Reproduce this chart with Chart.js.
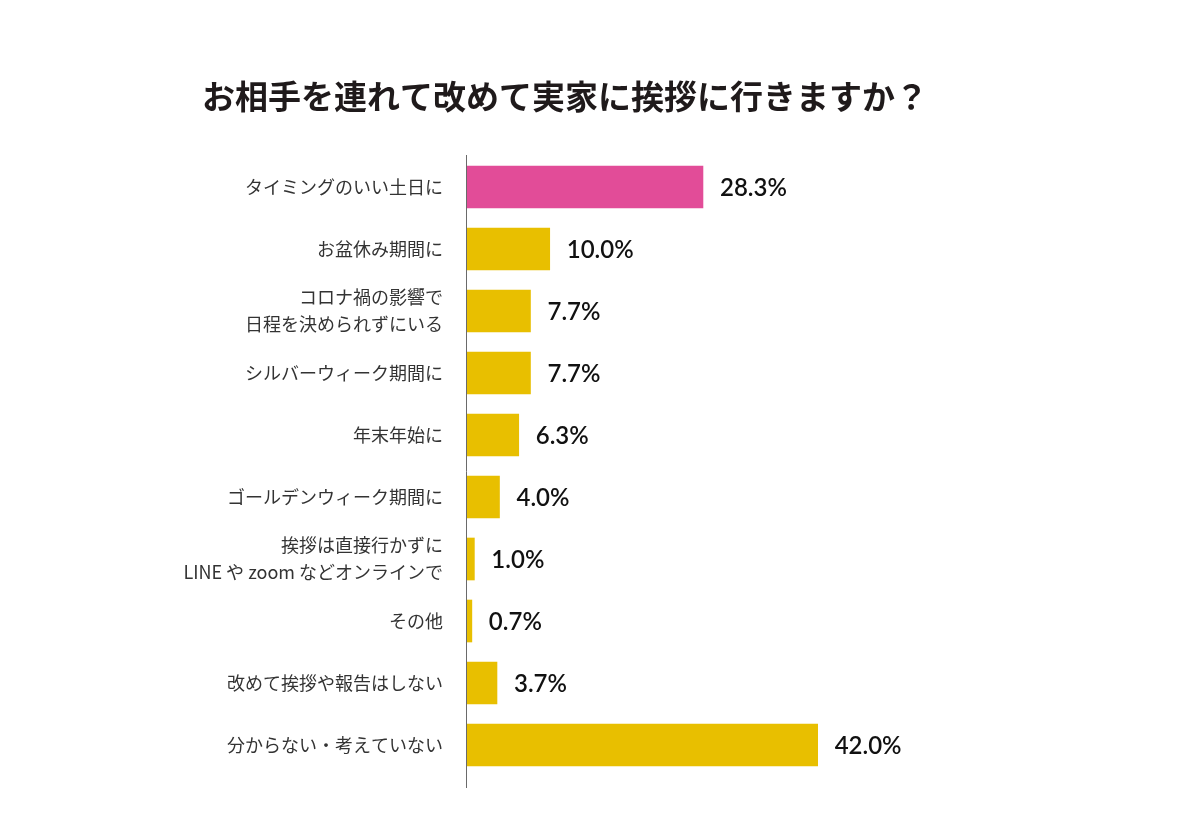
<!DOCTYPE html>
<html>
<head>
<meta charset="utf-8">
<script src="https://cdn.jsdelivr.net/npm/chart.js@4"></script>
<style>
  html, body { margin: 0; padding: 0; background: #ffffff; }
  #wrap { width: 1200px; height: 822px; position: relative; }
</style>
</head>
<body>
<div id="wrap"><canvas id="c" width="1200" height="822"></canvas></div>
<script>
const titleText = 'お相手を連れて改めて実家に挨拶に行きますか？';
const categories = [
  ['タイミングのいい土日に'],
  ['お盆休み期間に'],
  ['コロナ禍の影響で', '日程を決められずにいる'],
  ['シルバーウィーク期間に'],
  ['年末年始に'],
  ['ゴールデンウィーク期間に'],
  ['挨拶は直接行かずに', 'LINE や zoom などオンラインで'],
  ['その他'],
  ['改めて挨拶や報告はしない'],
  ['分からない・考えていない']
];
const values = [28.3, 10.0, 7.7, 7.7, 6.3, 4.0, 1.0, 0.7, 3.7, 42.0];
const highlightIndex = 0;

const PINK = '#e24c98';
const GOLD = '#e8bf00';

const valueLabelPlugin = {
  id: 'valueLabels',
  afterDatasetsDraw(chart) {
    const ctx = chart.ctx;
    const meta = chart.getDatasetMeta(0);
    const xs = chart.scales.x;
    ctx.save();
    ctx.font = '600 24px Lato, "Noto Sans", sans-serif';
    ctx.fillStyle = '#111111';
    ctx.textAlign = 'left';
    ctx.textBaseline = 'middle';
    meta.data.forEach((bar, i) => {
      const v = values[i];
      const x = xs.getPixelForValue(v) + 17;
      ctx.fillText(v.toFixed(1) + '%', x, bar.y + 1);
    });
    ctx.restore();
  }
};

const axisLinePlugin = {
  id: 'axisLine',
  afterDatasetsDraw(chart) {
    const ctx = chart.ctx;
    const a = chart.chartArea;
    const x = chart.scales.x.getPixelForValue(0);
    ctx.save();
    ctx.strokeStyle = '#6a6a6a';
    ctx.lineWidth = 1;
    ctx.beginPath();
    ctx.moveTo(Math.round(x) + 0.5, a.top - 1);
    ctx.lineTo(Math.round(x) + 0.5, a.bottom + 12);
    ctx.stroke();
    ctx.restore();
  }
};

new Chart(document.getElementById('c'), {
  type: 'bar',
  data: {
    labels: categories,
    datasets: [{
      data: values,
      backgroundColor: values.map((v, i) => i === highlightIndex ? PINK : GOLD),
      borderWidth: 0,
      barThickness: 42
    }]
  },
  options: {
    indexAxis: 'y',
    responsive: false,
    animation: false,
    devicePixelRatio: 1,
    layout: { padding: { left: 0, right: 70, top: 0, bottom: 46 } },
    plugins: {
      legend: { display: false },
      tooltip: { enabled: false },
      title: {
        display: true,
        text: titleText,
        color: '#1f1a1b',
        font: { family: '"Noto Sans CJK JP", sans-serif', size: 33, weight: 'bold', lineHeight: 1.2 },
        padding: { top: 77, bottom: 39.4 }
      }
    },
    scales: {
      x: {
        display: false,
        min: 0,
        max: 79.3,
        grid: { display: false }
      },
      y: {
        afterFit(scale) { scale.width = 466; },
        grid: { display: false, drawTicks: false },
        border: { display: false },
        ticks: {
          color: '#333333',
          padding: 23,
          font: { family: '"Noto Sans CJK JP", sans-serif', size: 18, weight: 'normal', lineHeight: 1.5 }
        }
      }
    }
  },
  plugins: [valueLabelPlugin, axisLinePlugin]
});
</script>
</body>
</html>
